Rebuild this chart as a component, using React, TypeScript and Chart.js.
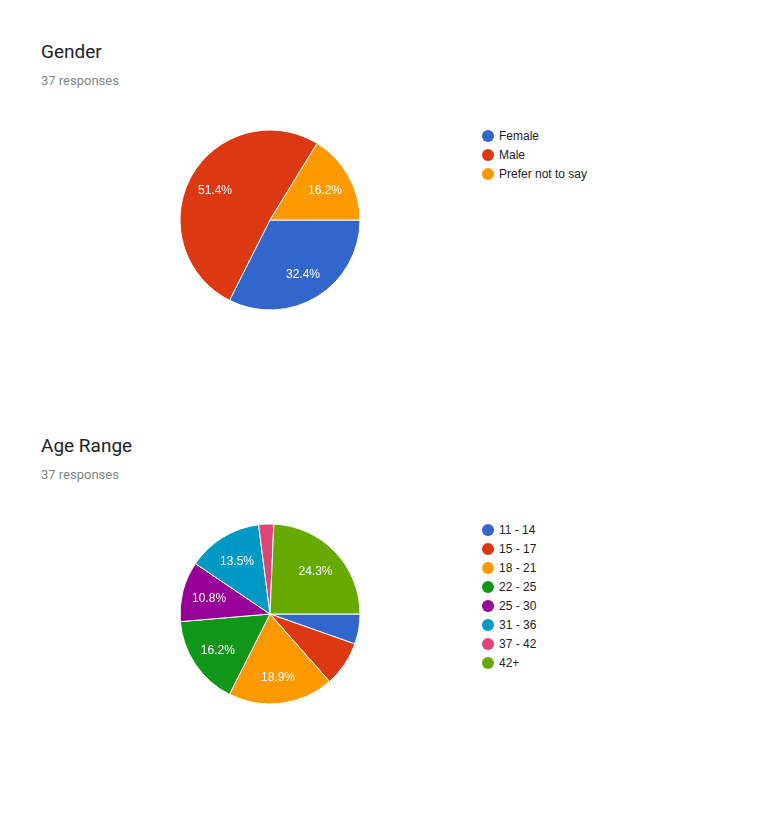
import React, { useEffect, useRef } from 'react';
import { Chart, registerables } from 'chart.js';

Chart.register(...registerables);

const COLORS = ['#3366cc', '#dc3912', '#ff9900', '#109618', '#990099', '#0099c6', '#dd4477', '#66aa00'];

const genderTitle = 'Gender';
const genderLabels = ['Female', 'Male', 'Prefer not to say'];
const genderCounts = [12, 19, 6];

const ageTitle = 'Age Range';
const ageLabels = ['11 - 14', '15 - 17', '18 - 21', '22 - 25', '25 - 30', '31 - 36', '37 - 42', '42+'];
const ageCounts = [2, 3, 7, 6, 4, 5, 1, 9];

const responsesText = '37 responses';

const pctLabelPlugin = {
  id: 'pctLabels',
  afterDatasetsDraw(chart: any) {
    const ctx = chart.ctx;
    const meta = chart.getDatasetMeta(0);
    const data: number[] = chart.data.datasets[0].data;
    const total = data.reduce((a, b) => a + b, 0);
    ctx.save();
    ctx.fillStyle = '#ffffff';
    ctx.font = '12px Arial, "Liberation Sans", sans-serif';
    ctx.textAlign = 'center';
    ctx.textBaseline = 'middle';
    meta.data.forEach((arc: any, i: number) => {
      const v = data[i] / total;
      if (v < 0.1) return;
      const p = arc.getProps(['x', 'y', 'startAngle', 'endAngle', 'outerRadius'], true);
      const mid = (p.startAngle + p.endAngle) / 2;
      const r = p.outerRadius * 0.7;
      ctx.fillText((v * 100).toFixed(1) + '%', p.x + Math.cos(mid) * r, p.y + Math.sin(mid) * r + 1);
    });
    ctx.restore();
  },
};

function PieSection({ title, labels, counts, top }: { title: string; labels: string[]; counts: number[]; top: number }) {
  const ref = useRef<HTMLCanvasElement>(null);
  useEffect(() => {
    if (!ref.current) return;
    const chart = new Chart(ref.current, {
      type: 'pie',
      data: {
        labels,
        datasets: [
          {
            data: counts,
            backgroundColor: COLORS.slice(0, counts.length),
            borderColor: '#ffffff',
            borderWidth: 1,
          },
        ],
      },
      options: {
        responsive: false,
        animation: false,
        rotation: 90,
        radius: 90,
        layout: { padding: 0 },
        plugins: {
          legend: { display: false },
          tooltip: { enabled: false },
        },
      } as any,
      plugins: [pctLabelPlugin as any],
    });
    return () => chart.destroy();
  }, []);

  const pieCy = top + 178;
  const legendTop = top + 94;
  return (
    <>
      <div
        style={{
          position: 'absolute',
          left: 41,
          top: top,
          fontFamily: 'Roboto, Arial, sans-serif',
          fontSize: 19,
          lineHeight: '19px',
          color: '#202124',
          whiteSpace: 'nowrap',
        }}
      >
        {title}
      </div>
      <div
        style={{
          position: 'absolute',
          left: 41,
          top: top + 32,
          fontFamily: 'Roboto, Arial, sans-serif',
          fontSize: 13,
          lineHeight: '13px',
          color: '#80868b',
          whiteSpace: 'nowrap',
        }}
      >
        {responsesText}
      </div>
      <canvas
        ref={ref}
        width={200}
        height={200}
        style={{ position: 'absolute', left: 170, top: pieCy - 100, width: 200, height: 200 }}
      />
      {labels.map((l, i) => (
        <div
          key={l}
          style={{
            position: 'absolute',
            left: 482,
            top: legendTop + i * 19 - 9.5,
            height: 19,
            display: 'flex',
            alignItems: 'center',
            whiteSpace: 'nowrap',
          }}
        >
          <span
            style={{
              display: 'inline-block',
              width: 12,
              height: 12,
              borderRadius: '50%',
              background: COLORS[i],
              marginRight: 5,
            }}
          />
          <span style={{ fontFamily: 'Arial, "Liberation Sans", sans-serif', fontSize: 12, color: '#222222' }}>{l}</span>
        </div>
      ))}
    </>
  );
}

export default function App() {
  return (
    <div
      style={{
        position: 'absolute',
        left: 0,
        top: 0,
        width: 767,
        height: 825,
        background: '#ffffff',
        overflow: 'hidden',
      }}
    >
      <PieSection title={genderTitle} labels={genderLabels} counts={genderCounts} top={42} />
      <PieSection title={ageTitle} labels={ageLabels} counts={ageCounts} top={436} />
    </div>
  );
}
